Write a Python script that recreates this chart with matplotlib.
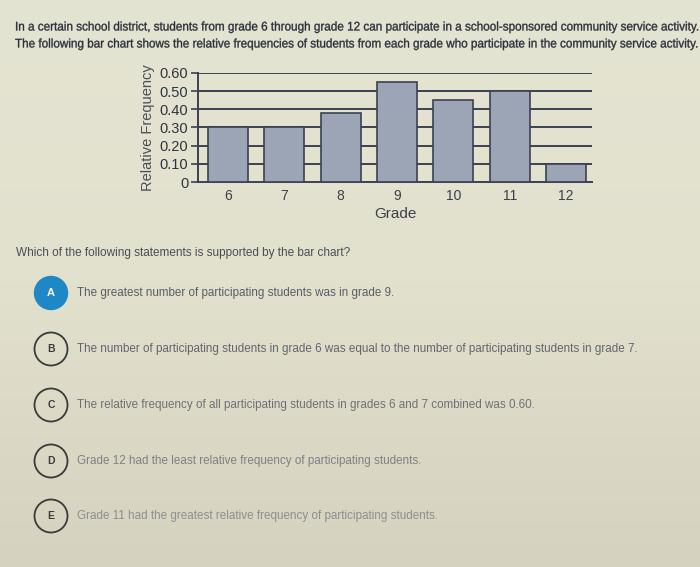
import matplotlib.pyplot as plt
from matplotlib.patches import Circle, PathPatch
from matplotlib.textpath import TextPath
from matplotlib.font_manager import FontProperties
from matplotlib.transforms import Affine2D
from matplotlib.colors import LinearSegmentedColormap
import numpy as np

grades = ['6', '7', '8', '9', '10', '11', '12']
rel_freq = [0.30, 0.30, 0.38, 0.55, 0.45, 0.50, 0.10]
y_ticks = [0, 0.10, 0.20, 0.30, 0.40, 0.50, 0.60]
y_tick_labels = ['0', '0.10', '0.20', '0.30', '0.40', '0.50', '0.60']

intro = [
    "In a certain school district, students from grade 6 through grade 12 can participate in a school-sponsored community service activity.",
    "The following bar chart shows the relative frequencies of students from each grade who participate in the community service activity.",
]
question = "Which of the following statements is supported by the bar chart?"
letters = ['A', 'B', 'C', 'D', 'E']
options = [
    "The greatest number of participating students was in grade 9.",
    "The number of participating students in grade 6 was equal to the number of participating students in grade 7.",
    "The relative frequency of all participating students in grades 6 and 7 combined was 0.60.",
    "Grade 12 had the least relative frequency of participating students.",
    "Grade 11 had the greatest relative frequency of participating students.",
]

plain = ['Liberation Sans', 'DejaVu Sans']


def squeezed_text(ax, x, y, s, size_px, width_px, color):
    # text as a path, squeezed sideways to a given width (the screen font is condensed)
    tp = TextPath((0, 0), s, size=size_px, prop=FontProperties(family='Liberation Sans'))
    ext = tp.get_extents()
    sx = width_px / ext.width
    tr = Affine2D().scale(sx, -1).translate(x, y + 0.36 * size_px)
    ax.add_patch(PathPatch(tr.transform_path(tp), facecolor=color, edgecolor=color,
                           lw=0.25, zorder=3))


fig = plt.figure(figsize=(7, 5.67), dpi=100)

# background layer in pixel coordinates
bg = fig.add_axes([0, 0, 1, 1])
bg.set_xlim(0, 700)
bg.set_ylim(567, 0)
bg.axis('off')
grad = np.linspace(0, 1, 256).reshape(-1, 1)
cmap = LinearSegmentedColormap.from_list('paper', ['#e4e4d2', '#e2e1ce', '#d5d2bf'])
bg.imshow(grad, extent=[0, 700, 567, 0], aspect='auto', cmap=cmap, zorder=0)

squeezed_text(bg, 15, 26, intro[0], 12.5, 682, '#2c2f3a')
squeezed_text(bg, 15, 43, intro[1], 12.5, 682, '#2c2f3a')
bg.text(16, 253, question, fontsize=8.5, family=plain, color='#4a4d55', va='center')

row_y = [293, 349, 405, 461, 516]
text_cols = ['#5a5d66', '#62656c', '#6e7076', '#7e8084', '#8c8e90']
for i in range(len(letters)):
    if i == 0:
        bg.add_patch(Circle((51, row_y[i]), 16.5, facecolor='#1e88c7', edgecolor='#1e88c7', zorder=2))
        bg.text(51, row_y[i], letters[i], color='white', fontsize=8, weight='bold',
                family=plain, ha='center', va='center', zorder=3)
    else:
        bg.add_patch(Circle((51, row_y[i]), 16.5, facecolor='none', edgecolor='#3a3a3a', lw=1.3, zorder=2))
        bg.text(51, row_y[i], letters[i], color='#3a3a3a', fontsize=7.5, weight='bold',
                family=plain, ha='center', va='center', zorder=3)
    bg.text(77, row_y[i], options[i], fontsize=8.35, family=plain, color=text_cols[i], va='center')

# the bar chart
ax = fig.add_axes([198 / 700, 1 - 182 / 567, (592 - 198) / 700, (182 - 73) / 567])
ax.set_facecolor('none')
x = np.arange(len(grades))
ax.bar(x, rel_freq, width=0.71, color='#9ca5b6', edgecolor='#3b4152', linewidth=1.2, zorder=3)
for t in y_ticks[1:]:
    ax.axhline(t, color='#3b4152', linewidth=1.4, zorder=1)
ax.set_xlim(-0.53, 6.46)
ax.set_ylim(0, 0.60)
ax.set_xticks(x)
ax.set_xticklabels(grades, fontsize=10, family=plain, color='#3b3f4a')
ax.set_yticks(y_ticks)
ax.set_yticklabels(y_tick_labels, fontsize=10.5, family=plain, color='#2f3340')
ax.tick_params(axis='x', length=0, pad=5)
ax.tick_params(axis='y', length=5, width=1.2, color='#3b4152', pad=2)
for s in ['top', 'right']:
    ax.spines[s].set_visible(False)
for s in ['left', 'bottom']:
    ax.spines[s].set_color('#3b4152')
    ax.spines[s].set_linewidth(1.4)
ax.set_xlabel('Grade', fontsize=11, family=plain, color='#3b3f4a', labelpad=3)
ax.set_ylabel('Relative Frequency', fontsize=10.5, family=plain, color='#4a4e58', labelpad=3)

fig.savefig('out.png', dpi=100)
